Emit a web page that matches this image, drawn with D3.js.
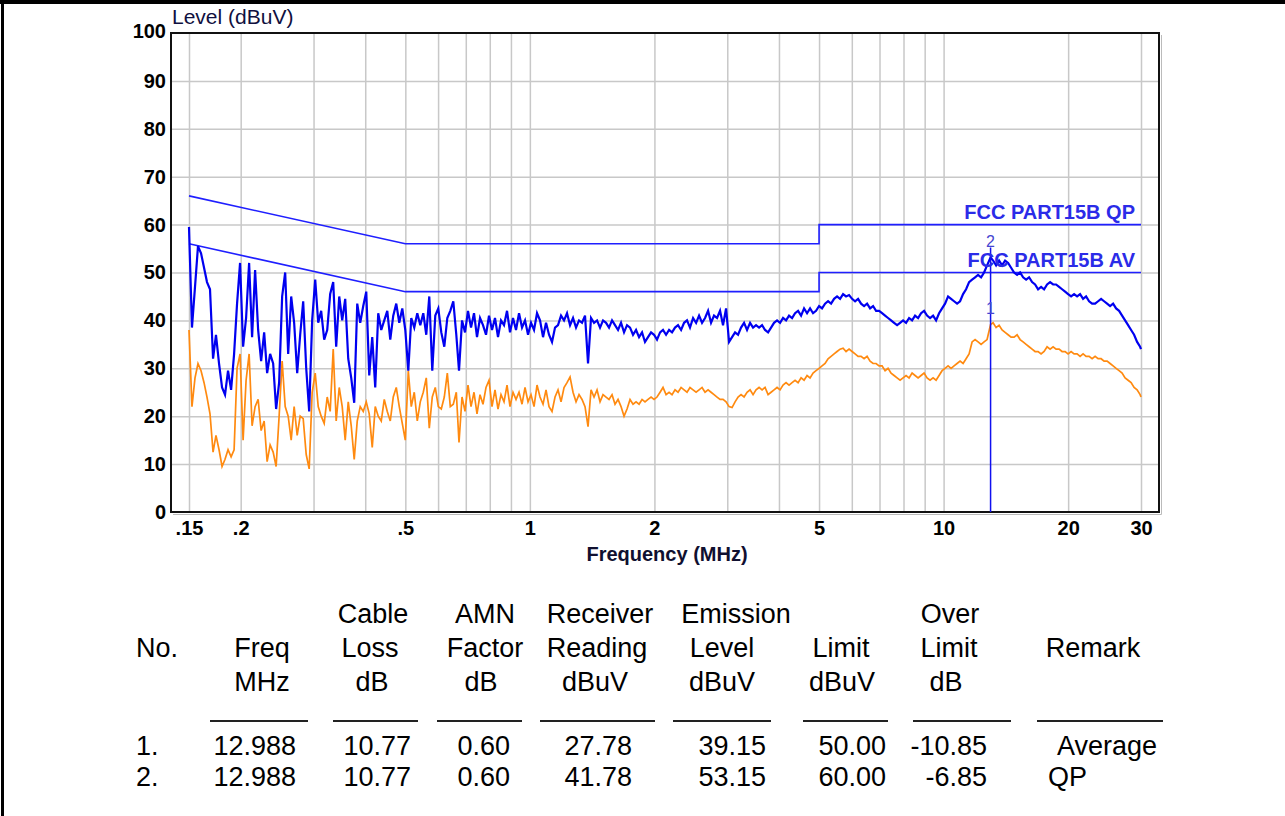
<!DOCTYPE html>
<html>
<head>
<meta charset="utf-8">
<script src="https://cdn.jsdelivr.net/npm/d3@7"></script>
<style>
  body { margin: 0; background: #fff; }
  svg { display: block; font-family: "Liberation Sans", Arial, sans-serif; }
  .grid line { stroke: #c8c8c8; stroke-width: 1.5; }
  .axis text { font-weight: bold; font-size: 20px; fill: #000; }
  .axis path, .axis line { display: none; }
  .tbl { font-size: 27px; fill: #000; }
</style>
</head>
<body>
<svg width="1285" height="816"></svg>
<script>
// sweep frequencies (MHz), shared by both detector traces
var freqMHz = [
  0.150,0.1525,0.1551,0.1577,0.1604,0.1631,0.1658,0.1686,0.1715,0.1743,
  0.1773,0.1803,0.1833,0.1864,0.1896,0.1928,0.1960,0.1993,0.2027,0.2061,
  0.2096,0.2131,0.2167,0.2204,0.2241,0.2279,0.2317,0.2356,0.2396,0.2436,
  0.2477,0.2519,0.2562,0.2605,0.2649,0.2693,0.2739,0.2785,0.2832,0.2880,
  0.2928,0.2977,0.3028,0.3079,0.3130,0.3183,0.3237,0.3291,0.3347,0.3403,
  0.3461,0.3519,0.3578,0.3639,0.3700,0.3762,0.3826,0.3890,0.3956,0.4023,
  0.4090,0.4159,0.4229,0.4300,0.4373,0.4447,0.4522,0.4598,0.4675,0.4754,
  0.4834,0.4916,0.4999,0.5083,0.5168,0.5255,0.5344,0.5434,0.5525,0.5618,
  0.5713,0.5809,0.5907,0.6007,0.6108,0.6211,0.6316,0.6422,0.6530,0.6640,
  0.6741,0.6855,0.6970,0.7087,0.7207,0.7328,0.7451,0.7577,0.7704,0.7834,
  0.7966,0.8100,0.8236,0.8375,0.8516,0.8660,0.8806,0.8954,0.9104,0.9258,
  0.9414,0.9573,0.9734,0.9898,1.0064,1.0234,1.0406,1.0581,1.0760,1.0941,
  1.1125,1.1312,1.1503,1.1696,1.1894,1.2094,1.2297,1.2505,1.2715,1.2929,
  1.3147,1.3368,1.3593,1.3822,1.4055,1.4292,1.4533,1.4777,1.5026,1.5279,
  1.5536,1.5798,1.6063,1.6334,1.6609,1.6889,1.7173,1.7462,1.7756,1.8056,
  1.836,1.867,1.898,1.930,1.963,1.996,2.029,2.064,2.098,2.134,
  2.170,2.206,2.243,2.281,2.320,2.359,2.398,2.438,2.480,2.522,
  2.564,2.607,2.651,2.696,2.741,2.787,2.834,2.882,2.930,2.980,
  3.030,3.081,3.133,3.186,3.239,3.294,3.349,3.406,3.463,3.521,
  3.581,3.641,3.702,3.765,3.828,3.892,3.958,4.025,4.092,4.161,
  4.231,4.303,4.375,4.449,4.524,4.600,4.677,4.756,4.836,4.917,
  5.000,5.084,5.170,5.257,5.346,5.436,5.527,5.620,5.715,5.811,
  5.909,6.009,6.110,6.213,6.317,6.424,6.532,6.642,6.754,6.867,
  6.983,7.100,7.220,7.341,7.465,7.591,7.719,7.849,7.981,8.115,
  8.252,8.391,8.532,8.676,8.822,8.970,9.121,9.275,9.431,9.590,
  9.751,9.916,10.082,10.252,10.425,10.600,10.779,10.960,11.145,11.333,
  11.524,11.718,11.915,12.115,12.320,12.527,12.738,12.988,13.171,13.393,
  13.618,13.847,14.080,14.318,14.559,14.804,15.053,15.307,15.564,15.827,
  16.093,16.364,16.639,16.919,17.204,17.494,17.789,18.088,18.393,18.702,
  19.017,19.337,19.663,19.994,20.330,20.673,21.021,21.375,21.735,22.101,
  22.473,22.852,23.237,23.628,24.026,24.430,24.842,25.260,25.686,26.118,
  26.557,27.004,27.459,27.922,28.392,28.870,29.356,29.850,30.0
];

// peak / QP scan (blue), dBuV
var peakLevel = [
  59.5,38.5,47,55.5,54,51,48,46.5,32,37,
  31,26,24.5,29.5,25.5,33,43.5,52,34.5,40.5,
  52,36.5,50.5,38,31.5,37.5,29,33,31,21.5,
  27,45,50,33,45,39.5,29,37,44,30,
  21,40,48.5,39.5,42,36,38,45.5,48,34.5,
  45,40,44.5,32,28,22.8,43.5,39.5,43,46,
  28.5,36.5,26,41.5,38,40,42,36,41,43.5,
  39.5,42.5,38,29.5,40.5,38.5,41.5,39,41.5,37,
  45,29.5,41,42.5,37.5,34.5,40.5,42,44,37,
  29.5,40,37.5,42,38.5,41.5,36.5,40.5,39,37,
  41,38,40.5,36.5,40,39,42,37.5,40.5,38,
  41.5,38.5,40,37,39.5,38,41.5,40,36.5,39.5,
  37,35.5,38.5,39,41,40,41.5,39,40.5,38.5,
  40,39.5,41,31,40.5,39.5,40,38.5,40,39.5,
  38.5,40,39,38,39.5,37.5,39,38.5,37,38,
  36.5,37.5,35.5,36.5,37.5,37,36,37.5,38,37,
  38,37.5,38.5,39,38,39.5,40,38.5,40.5,39.5,
  41,39.5,40.5,42,39.5,41,40.5,42,39,42.5,
  35.5,36.5,37.5,37,38.5,39.5,38,39.5,38.5,39,
  38.5,39,38,37.5,38.5,39.5,40,39.5,40.5,40,
  41,40.5,41.5,42,41,42.5,41.5,42.5,41.5,42,
  43,42.5,43.5,44,43.5,44.5,45,44.5,45.5,45,
  45.3,44.5,44,44.5,43.5,43,43.5,42.5,43,42,
  42,41.5,41,40.5,40,39.5,39,39.5,40,39.5,
  40.5,40,41,40.5,41.5,42,41,40.5,41,40,
  41.5,42.5,43.5,45,44.5,44,43.5,44,45.5,46.5,
  48,48.5,49,49.5,49,50,51.5,53.15,52.5,51.5,
  52.5,51.5,52.5,52,51,50,49.5,50,49,48.5,
  49,48,47.5,46.5,47,46.5,47.5,48,47.5,47.5,
  47,46.5,46,45.5,45,45.5,45,45.5,44.5,45,
  44,43.5,43.5,44,44.5,44,43.5,43,43.5,42.5,
  42,41,40,39,38,37,35.5,34.5,34
];

// average scan (orange), dBuV
var avgLevel = [
  38,22,28,31,29.5,27,24,20.5,12.5,16,
  13,9.5,11,13,11.5,13,30,33,15,27.5,
  33,18,22,23.5,17,19,10.5,14,12.5,9.5,
  20,31.5,22,20,15,22,16,20,19.5,12,
  9,25,29,22,20,18.5,24,21,34,19,
  26,22,15,23,18,11,19,22,21,23,
  20.5,13.5,22,20,19,23.5,21,19,24,26,
  22,18.5,15,29.5,22,25,19,23,25,28,
  17.5,24,26,22,21.5,24,29,22,22.5,25,
  14.5,24,21,26.5,22,25,20.5,24.5,22.5,26,
  27.5,22,25.5,21.5,24.5,23,26.5,22,25,23.5,
  25,22.5,26,23,24.5,22,26.5,24,22.5,25.5,
  22,21,24,25.5,23,26,27,28.2,25,23,
  24.5,23.5,22,17.8,25.5,24,25.5,23,24.5,24,
  23.5,24.5,22.5,23.5,22,20,21.5,23.5,22.5,23,
  22.5,23.5,23,23.5,24,23.5,24,25,26,24.5,
  25,24.5,25.5,25,26,25.5,25,26,25.5,25,
  25.5,26,25,25.5,25,24.5,24,23.5,23.5,23,
  22,21.8,23,24,24.5,24,25,25.5,24.5,25.5,
  26,25.5,26,24.5,25,25.5,26,25.5,26.5,27,
  26.5,27,27.5,27,28,27.5,28.5,28,29,29.5,
  30,30.5,31,32,32.5,33,33.5,34,34.2,33.5,
  34,33.5,33,32.5,32.5,32,32.5,31.5,31,31,
  30.5,30.5,29.5,30,29,28.5,28,27.5,28,28.5,
  28,29,28.5,28,28.5,29,28,27.5,28,27.5,
  28.5,29.5,30,30.5,30,30.5,31,31.5,31,32,
  33,35.5,36,35.5,35,35.5,36,39.15,39.5,38.5,
  39,38,37.5,37,36.5,36.5,37,36,35.5,35,
  34.5,34,33.5,33.5,33,33.5,34.5,34,34.5,34,
  34,33.5,33.5,33,33.5,33,33,32.5,33,32.5,
  32.5,32,32.5,32,32,31.5,31.5,31,30.5,30,
  29.5,29,28,27.5,27,26,25.5,24.5,24
];

// FCC Part 15B class B conducted limits
var limitFreq = [0.15, 0.5, 5, 5, 30];
var qpLimit = [66, 56, 56, 60, 60];
var avLimit = [56, 46, 46, 50, 50];

var gridFreqs = [0.15,0.2,0.3,0.4,0.5,0.6,0.7,0.8,0.9,1,2,3,4,5,6,7,8,9,10,20,30];
var tickFreqs = [0.15,0.2,0.5,1,2,5,10,20,30];
var tickLabels = [".15",".2",".5","1","2","5","10","20","30"];

// marker readings
var markerNo = ["1.","2."];
var markerFreq = [12.988, 12.988];
var cableLoss = ["10.77","10.77"];
var amnFactor = ["0.60","0.60"];
var reading = ["27.78","41.78"];
var emission = [39.15, 53.15];
var limitVal = ["50.00","60.00"];
var overLimit = ["-10.85","-6.85"];
var remark = ["Average","QP"];

var svg = d3.select("svg");
svg.append("rect").attr("x", 0).attr("y", 0).attr("width", 1285).attr("height", 4).attr("fill", "#000");
svg.append("rect").attr("x", 1).attr("y", 0).attr("width", 3).attr("height", 816).attr("fill", "#000");

var frame = {left: 171, right: 1159, top: 33, bottom: 512};
var x = d3.scaleLog().domain([0.15, 30]).range([189, 1141]);
var y = d3.scaleLinear().domain([0, 100]).range([frame.bottom, frame.top]);

// grid
var g = svg.append("g");
g.append("g").attr("class", "grid").attr("transform", "translate(0," + frame.bottom + ")")
  .call(d3.axisBottom(x).tickValues(gridFreqs).tickSize(-(frame.bottom - frame.top)).tickFormat(""))
  .call(function(s) { s.select(".domain").remove(); });
g.append("g").attr("class", "grid").attr("transform", "translate(" + frame.left + ",0)")
  .call(d3.axisLeft(y).tickValues(d3.range(10, 100, 10)).tickSize(-(frame.right - frame.left)).tickFormat(""))
  .call(function(s) { s.select(".domain").remove(); });

// frame with a small shadow on bottom / right
g.append("path").attr("fill", "none").attr("stroke", "#bbb").attr("stroke-width", 1)
  .attr("d", "M" + (frame.left + 2) + "," + (frame.bottom + 2.5) + "H" + (frame.right + 2.5) + "V" + (frame.top + 2));
g.append("rect").attr("x", frame.left).attr("y", frame.top)
  .attr("width", frame.right - frame.left).attr("height", frame.bottom - frame.top)
  .attr("fill", "none").attr("stroke", "#111").attr("stroke-width", 2);

// axes labels
svg.append("g").attr("class", "axis").attr("transform", "translate(0," + (frame.bottom + 4) + ")")
  .call(d3.axisBottom(x).tickValues(tickFreqs).tickSize(0).tickPadding(5)
    .tickFormat(function(d, i) { return tickLabels[i]; }));
svg.append("g").attr("class", "axis").attr("transform", "translate(" + (frame.left - 4) + ",0)")
  .call(d3.axisLeft(y).tickValues(d3.range(0, 101, 10)).tickSize(0).tickPadding(1))
  .selectAll("text").attr("dy", function(d) { return d === 100 ? "0.2em" : "0.32em"; });

svg.append("text").attr("x", frame.left + 1).attr("y", 24)
  .style("font-size", "21px").attr("fill", "#101040").text("Level (dBuV)");
svg.append("text").attr("x", 667).attr("y", 561).attr("text-anchor", "middle")
  .style("font-size", "20px").style("font-weight", "bold").attr("fill", "#101030").text("Frequency (MHz)");

// plot
svg.append("clipPath").attr("id", "clip").append("rect")
  .attr("x", frame.left).attr("y", frame.top).attr("width", frame.right - frame.left).attr("height", frame.bottom - frame.top);
var plot = svg.append("g").attr("clip-path", "url(#clip)");

var trace = d3.line().x(function(d) { return x(d[0]); }).y(function(d) { return y(d[1]); });

plot.append("path").datum(d3.zip(limitFreq, qpLimit)).attr("d", trace)
  .attr("fill", "none").attr("stroke", "#1f1fff").attr("stroke-width", 1.6);
plot.append("path").datum(d3.zip(limitFreq, avLimit)).attr("d", trace)
  .attr("fill", "none").attr("stroke", "#1f1fff").attr("stroke-width", 1.6);

plot.append("path").datum(d3.zip(freqMHz, avgLevel)).attr("d", trace)
  .attr("fill", "none").attr("stroke", "#ff8a10").attr("stroke-width", 1.7);
plot.append("path").datum(d3.zip(freqMHz, peakLevel)).attr("d", trace)
  .attr("fill", "none").attr("stroke", "#0000f0").attr("stroke-width", 2.2);

// limit names
svg.append("text").attr("x", 1135).attr("y", y(60) - 6).attr("text-anchor", "end")
  .style("font-size", "20px").style("font-weight", "bold").attr("fill", "#2b2be8").text("FCC PART15B QP");
svg.append("text").attr("x", 1135).attr("y", y(50) - 6).attr("text-anchor", "end")
  .style("font-size", "20px").style("font-weight", "bold").attr("fill", "#2b2be8").text("FCC PART15B AV");

// marker
plot.append("line").attr("x1", x(markerFreq[1])).attr("x2", x(markerFreq[1]))
  .attr("y1", y(emission[1]) - 10).attr("y2", frame.bottom)
  .attr("stroke", "#1010f0").attr("stroke-width", 1.5);
markerNo.forEach(function(m, i) {
  svg.append("text").attr("x", x(markerFreq[i])).attr("y", y(emission[i]) - 10)
    .attr("text-anchor", "middle").style("font-size", "16px").attr("fill", "#4545d0").text(String(i + 1));
});

// readings table
var tbl = svg.append("g").attr("class", "tbl");
var head = [
  ["Cable", 373, 623], ["AMN", 485, 623], ["Receiver", 600, 623], ["Emission", 736, 623], ["Over", 950, 623],
  ["Freq", 262, 657], ["Loss", 370, 657], ["Factor", 485, 657], ["Reading", 597, 657], ["Level", 722, 657],
  ["Limit", 841, 657], ["Limit", 949, 657], ["Remark", 1093, 657],
  ["MHz", 262, 691], ["dB", 372, 691], ["dB", 481, 691], ["dBuV", 595, 691], ["dBuV", 722, 691],
  ["dBuV", 842, 691], ["dB", 946, 691]
];
tbl.append("text").attr("x", 136).attr("y", 657).text("No.");
tbl.selectAll(".h").data(head).enter().append("text")
  .attr("x", function(d) { return d[1]; }).attr("y", function(d) { return d[2]; })
  .attr("text-anchor", "middle").text(function(d) { return d[0]; });

var rules = [[210, 308], [333, 418], [437, 522], [540, 655], [673, 771], [803, 888], [913, 1011], [1037, 1163]];
tbl.selectAll(".r").data(rules).enter().append("line")
  .attr("x1", function(d) { return d[0]; }).attr("x2", function(d) { return d[1]; })
  .attr("y1", 721).attr("y2", 721).attr("stroke", "#222").attr("stroke-width", 2);

var cols = [
  [markerFreq.map(function(f) { return f.toFixed(3); }), 296],
  [cableLoss, 411], [amnFactor, 510], [reading, 632],
  [emission.map(function(v) { return v.toFixed(2); }), 766],
  [limitVal, 886], [overLimit, 987]
];
[755, 786].forEach(function(by, r) {
  tbl.append("text").attr("x", 136).attr("y", by).text(markerNo[r]);
  cols.forEach(function(c) {
    tbl.append("text").attr("x", c[1]).attr("y", by).attr("text-anchor", "end").text(c[0][r]);
  });
  tbl.append("text").attr("x", r === 0 ? 1057 : 1048).attr("y", by).text(remark[r]);
});
</script>
</body>
</html>
